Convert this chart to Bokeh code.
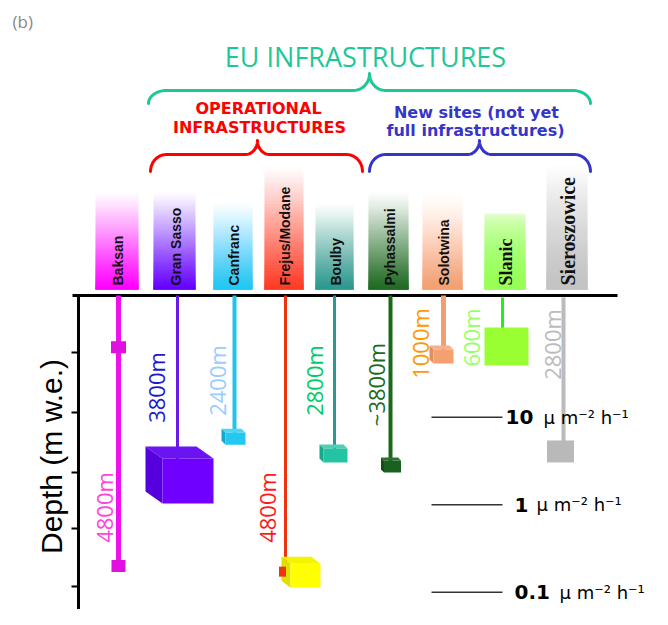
import numpy as np
from bokeh.plotting import figure
from bokeh.models import Range1d
from bokeh.core.properties import value
from bokeh.embed import file_html
from bokeh.resources import INLINE

# ---------------- data ----------------
labs = ["Baksan", "Gran Sasso", "Canfranc", "Frejus/Modane", "Boulby",
        "Pyhassalmi", "Solotwina", "Slanic", "Sieroszowice"]
depth_labels = ["4800m", "3800m", "2400m", "4800m", "2800m",
                "~3800m", "1000m", "600m", "2800m"]
# muon flux at each site (mu m^-2 h^-1) (marker centre)
muon_flux = [0.20, 1.87, 5.7, 0.155, 3.66, 2.74, 49.5, 64.4, 4.07]
baksan_upper_flux = 63.0
ref_flux = [10, 1, 0.1]
ref_num = ["10", "1", "0.1"]
group_titles = ["EU INFRASTRUCTURES", "OPERATIONAL", "INFRASTRUCTURES",
                "New sites (not yet", "full infrastructures)"]

# ---------------- layout / style ----------------
C, D = 504.3, 87.5          # page-pixel position of flux=1, pixels per decade


def fy(pix):
    return 10 ** ((C - np.asarray(pix, dtype=float)) / D)


def pix(f):
    return C - D * np.log10(f)


stem_x = [118, 177, 234, 285, 334, 390, 443, 502, 563]
stem_w = [5, 3, 4, 3, 3, 4, 5, 3, 4]
stem_col = ["#ee11ee", "#6a1ae6", "#22c4ee", "#ee3311", "#2a9a90",
            "#1a6a1a", "#f0a070", "#22ee22", "#bbbbbb"]
bar_left = [95, 153, 213, 264, 315, 368, 422, 484, 546]
bar_right = [138, 195, 252, 303, 353, 408, 462, 525, 587]
bar_top = [192, 192, 202, 167, 203, 192, 192, 213, 165]
bar_bottom = 289
bar_col = ["#ff00ff", "#6600ff", "#1ec8f5", "#ff3b24", "#2a9a8f",
           "#1f6b22", "#f4a070", "#99ff55", "#c4c4c4"]
bar_pow = [1.1, 1.1, 1.1, 1.1, 1.1, 1.1, 1.3, 0.35, 1.0]
bar_font = ["Liberation Sans"] * 7 + ["Liberation Serif"] * 2
bar_fsize = ["14px"] * 7 + ["18px", "20px"]

# marker boxes: centre-x, width, height, depth-offset (dx, dy), colours
mk_cx = [118, 187.5, 235, 305, 335, 392, 443, 506, 560]
mk_w = [14, 51, 20, 30, 24, 17, 20, 44, 27]
mk_h = [12, 45, 12, 24, 14, 12, 14, 38, 22]
mk_d = [(0, 0), (17, 12), (4, 4), (9, 7), (4, 4), (3, 3), (4, 4), (0, 0), (0, 0)]
mk_front = ["#e010e0", "#6f00ff", "#22c8f0", "#ffff00", "#22c4a2",
            "#1a6020", "#f5a070", "#99ff33", "#b9b9b9"]
mk_top = ["#e010e0", "#6a14f2", "#4fd4f5", "#f4f400", "#4fd0b4",
          "#2a7030", "#f7b088", "#99ff33", "#b9b9b9"]
mk_side = ["#d000d0", "#5500dd", "#14a8d0", "#e0e000", "#18a888",
           "#12501a", "#e09060", "#99ff33", "#b9b9b9"]

dl_x = [103, 155, 216, 266, 313, 375, 419, 470, 551]
dl_y = [507, 387, 380, 507, 380, 384, 343, 337, 344]
dl_col = ["#ff44dd", "#1a1acc", "#99ccff", "#ff1a1a", "#00cc66",
          "#1a6b1a", "#ff9900", "#99ff66", "#bbbbbb"]

p = figure(width=652, height=609, x_range=Range1d(0, 652),
           y_range=Range1d(float(fy(609)), float(fy(0))), y_axis_type="log",
           x_axis_location=None, y_axis_location=None,
           output_backend="svg", toolbar_location=None, min_border=0)
p.grid.visible = False
p.outline_line_color = None
p.background_fill_color = "white"
p.border_fill_color = "white"

# ---- gradient name bars (overlapping quads, cumulative alpha) ----
L, R, T, B, A, COL = [], [], [], [], [], []
N = 40
for i in range(len(labs)):
    edges = np.linspace(bar_top[i], bar_bottom, N + 1)
    prev = 0.0
    for k in range(N):
        c = ((k + 1) / N) ** bar_pow[i]
        a = 1.0 - (1.0 - c) / (1.0 - prev) if prev < 1 else 0.0
        a = min(max(a, 0.0), 1.0)
        prev = c
        L.append(bar_left[i]); R.append(bar_right[i])
        T.append(float(fy(edges[k]))); B.append(float(fy(bar_bottom)))
        A.append(a)
        COL.append(bar_col[i])
p.quad(left=L, right=R, top=T, bottom=B, fill_color=COL, fill_alpha=A, line_color=None)

for i, name in enumerate(labs):
    p.text(x=[(bar_left[i] + bar_right[i]) / 2 + 1], y=[float(fy(285))], text=[name],
           angle=np.pi / 2, text_align="left", text_baseline="middle",
           text_font=value(bar_font[i]), text_font_size=bar_fsize[i],
           text_font_style="bold", text_color="#111111")

# ---- axis frame ----
p.line(x=[72, 617], y=[float(fy(295))] * 2, line_color="black", line_width=3)
p.line(x=[78, 78], y=[float(fy(295)), float(fy(625))], line_color="black", line_width=3)
for ty in [352, 412, 472, 528, 586]:
    p.line(x=[71, 78], y=[float(fy(ty))] * 2, line_color="black", line_width=2)
p.text(x=[51], y=[float(fy(456))], text=["Depth (m w.e.)"], angle=np.pi / 2,
       text_align="center", text_baseline="middle",
       text_font=value("Liberation Sans"), text_font_size="30px", text_color="black")

# ---- stems ----
stem_top = [295, 295, 295, 295, 295, 295, 295, 297, 297]
for i in range(len(labs)):
    yend = muon_flux[i] if i != 3 else float(fy(pix(muon_flux[i]) - 4))
    p.segment(x0=[stem_x[i]], y0=[float(fy(stem_top[i]))], x1=[stem_x[i]], y1=[yend],
              line_color=stem_col[i], line_width=stem_w[i])

# ---- markers (boxes) ----
pxs, pys, pcs = [], [], []


def add_box(cx, cy, w, h, d, cf, ct, cs):
    x0, x1, y0, y1 = cx - w / 2, cx + w / 2, cy - h / 2, cy + h / 2
    dx, dy = d
    if dx or dy:
        pxs.append([x0 - dx, x1 - dx, x1, x0]); pys.append([y0 - dy, y0 - dy, y0, y0]); pcs.append(ct)
        pxs.append([x0 - dx, x0, x0, x0 - dx]); pys.append([y0 - dy, y0, y1, y1 - dy]); pcs.append(cs)
    pxs.append([x0, x1, x1, x0]); pys.append([y0, y0, y1, y1]); pcs.append(cf)


for i in range(len(labs)):
    add_box(mk_cx[i], pix(muon_flux[i]), mk_w[i], mk_h[i], mk_d[i],
            mk_front[i], mk_top[i], mk_side[i])
add_box(118, pix(baksan_upper_flux), 15, 12, (0, 0), "#e010e0", "#e010e0", "#e010e0")
add_box(282, pix(muon_flux[3]) - 4, 7, 10, (0, 0), "#ee3311", "#ee3311", "#ee3311")
p.patches(xs=pxs, ys=[list(fy(v)) for v in pys], fill_color=pcs, line_color=None)

# ---- depth labels ----
for i in range(len(labs)):
    p.text(x=[dl_x[i]], y=[float(fy(dl_y[i]))], text=[depth_labels[i]], angle=np.pi / 2,
           text_align="center", text_baseline="middle",
           text_font=value("Open Sans"), text_font_size="22px", text_color=dl_col[i])

# ---- reference flux lines ----
unit_x = [543, 536, 559]
num_x = [505, 514, 514]
for j, f in enumerate(ref_flux):
    p.line(x=[431, 502], y=[f, f], line_color="#333333", line_width=1.5)
    p.text(x=[num_x[j]], y=[f], text=[ref_num[j]], text_align="left", text_baseline="middle",
           text_font=value("DejaVu Sans"), text_font_size="20px", text_font_style="bold",
           text_color="black")
    p.text(x=[unit_x[j]], y=[f], text=["\u03bc m\u207b\u00b2 h\u207b\u00b9"], text_align="left",
           text_baseline="middle", text_font=value("DejaVu Sans"), text_font_size="18px",
           text_color="black")

# ---- header ----
p.text(x=[12], y=[float(fy(21))], text=["(b)"], text_align="left", text_baseline="middle",
       text_font=value("Open Sans"), text_font_size="17px", text_color="#888888")
p.text(x=[365], y=[float(fy(56))], text=[group_titles[0]], text_align="center",
       text_baseline="middle", text_font=value("Open Sans"), text_font_size="27px",
       text_color="#1ec896")
for txt, tx, ty, col in [(group_titles[1], 258, 108, "#ff0000"),
                         (group_titles[2], 259, 127, "#ff0000"),
                         (group_titles[3], 476, 112, "#3535c8"),
                         (group_titles[4], 475, 130, "#3535c8")]:
    p.text(x=[tx], y=[float(fy(ty))], text=[txt], text_align="center", text_baseline="middle",
           text_font=value("DejaVu Sans"), text_font_size="16px", text_font_style="bold",
           text_color=col)


def brace(x0, x1, xc, yh, yend, ytip, r, r2):
    t = np.linspace(0, np.pi / 2, 14)
    ry = yend - yh
    xa = x0 + r * (1 - np.cos(t)); ya = yend - ry * np.sin(t)
    xb = xc - r2 + r2 * np.sin(t); yb = ytip + (yh - ytip) * np.cos(t)
    xs = np.concatenate([xa, xb, (2 * xc - xb)[::-1], (x1 + x0 - xa)[::-1]])
    ys = np.concatenate([ya, yb, yb[::-1], ya[::-1]])
    return list(xs), list(fy(ys))


for args, col in [((148, 590, 369, 90, 103, 73, 18, 16), "#1ec896"),
                  ((150, 362, 257, 154, 171, 140, 16, 12), "#ff0000"),
                  ((369, 590, 479, 154, 171, 140, 16, 12), "#3535c8")]:
    bx, by = brace(*args)
    p.line(x=bx, y=by, line_color=col, line_width=3, line_cap="round", line_join="round")

open("out.html", "w").write(file_html(p, INLINE))
